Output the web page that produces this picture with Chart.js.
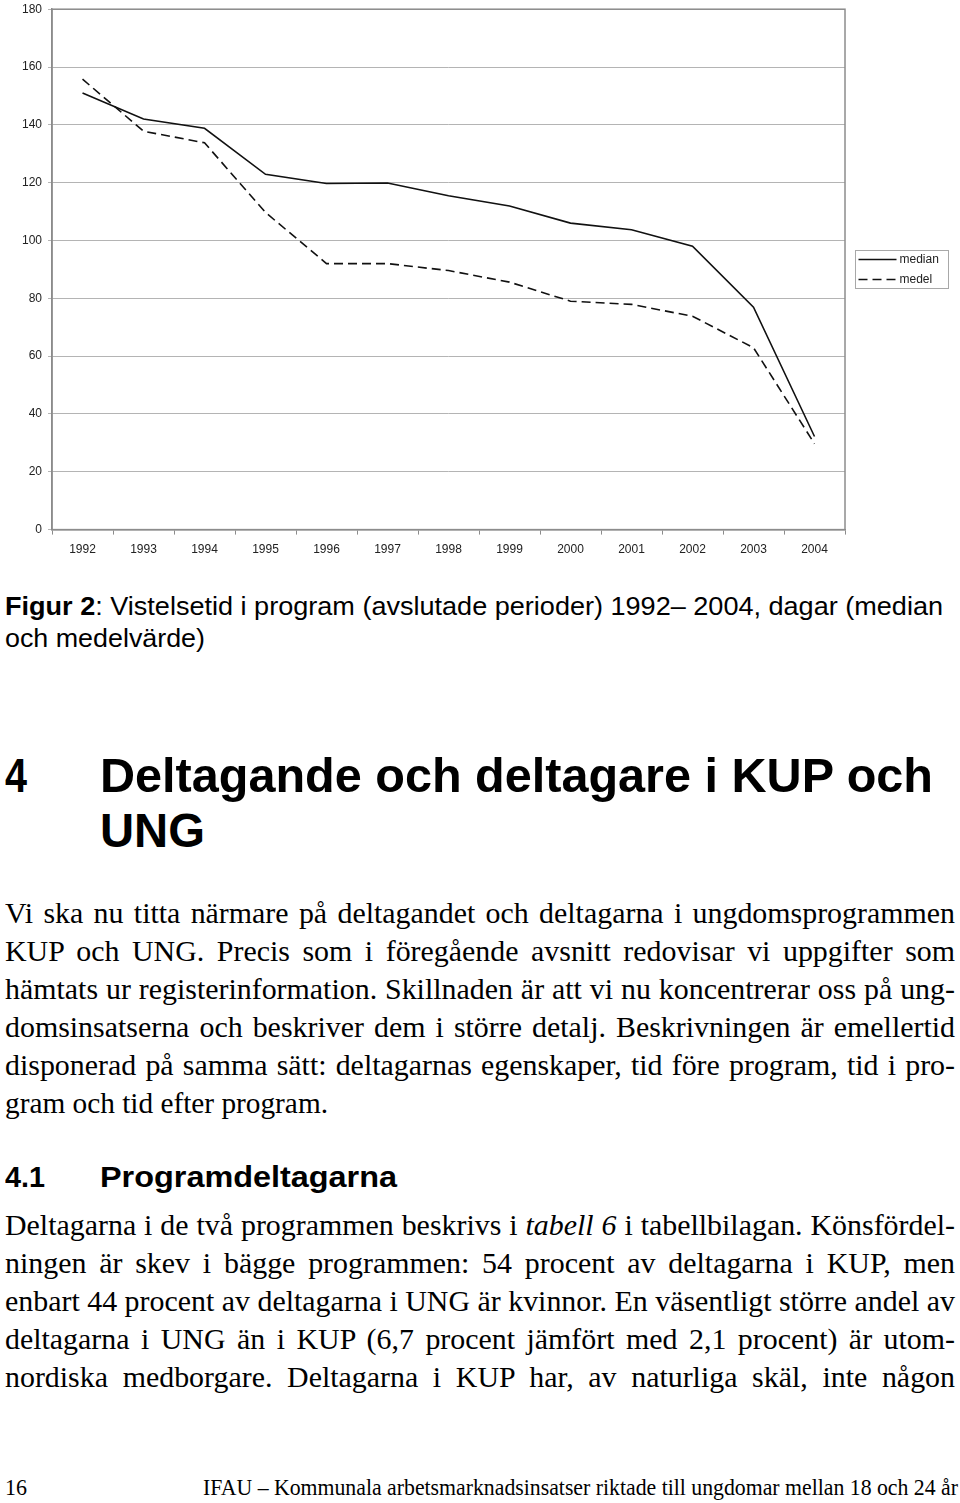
<!DOCTYPE html>
<html>
<head>
<meta charset="utf-8">
<script src="https://cdn.jsdelivr.net/npm/chart.js@4.4.1/dist/chart.umd.min.js"></script>
<style>
  html, body { margin: 0; padding: 0; background: #fff; }
  body { width: 960px; height: 1503px; position: relative; overflow: hidden; }
  #chartBox { position: absolute; left: 0; top: -4px; width: 960px; height: 573px; }
  .ln { position: absolute; white-space: nowrap; line-height: 1; color: #000; transform-origin: 0 0; display: inline-block; }
  .sans { font-family: "Liberation Sans", Arial, sans-serif; }
  .narrow { font-family: "Liberation Sans Narrow", "Liberation Sans", Arial, sans-serif; }
  .serif { font-family: "Liberation Serif", "Times New Roman", serif; }
  .b { font-weight: bold; }
</style>
</head>
<body>
<div id="chartBox"><canvas id="c" width="960" height="573"></canvas></div>

<div class="ln narrow" style="left:5px;top:593px;font-size:26px" data-w="938"><b>Figur 2</b>: Vistelsetid i program (avslutade perioder) 1992– 2004, dagar (median</div>
<div class="ln narrow" style="left:5px;top:625px;font-size:26px" data-w="200">och medelvärde)</div>

<div class="ln sans b" style="left:5px;top:752px;font-size:48px" data-w="22">4</div>
<div class="ln sans b" style="left:100px;top:752px;font-size:48px" data-w="833">Deltagande och deltagare i KUP och</div>
<div class="ln sans b" style="left:100px;top:807px;font-size:48px" data-w="105">UNG</div>

<div class="ln serif" style="left:5px;top:900px;font-size:28.5px" data-w="950" data-j="1">Vi ska nu titta närmare på deltagandet och deltagarna i ungdomsprogrammen</div>
<div class="ln serif" style="left:5px;top:938px;font-size:28.5px" data-w="950" data-j="1">KUP och UNG. Precis som i föregående avsnitt redovisar vi uppgifter som</div>
<div class="ln serif" style="left:5px;top:976px;font-size:28.5px" data-w="950" data-j="1">hämtats ur registerinformation. Skillnaden är att vi nu koncentrerar oss på ung-</div>
<div class="ln serif" style="left:5px;top:1014px;font-size:28.5px" data-w="950" data-j="1">domsinsatserna och beskriver dem i större detalj. Beskrivningen är emellertid</div>
<div class="ln serif" style="left:5px;top:1052px;font-size:28.5px" data-w="950" data-j="1">disponerad på samma sätt: deltagarnas egenskaper, tid före program, tid i pro-</div>
<div class="ln serif" style="left:5px;top:1090px;font-size:28.5px" data-w="323">gram och tid efter program.</div>

<div class="ln sans b" style="left:5px;top:1162px;font-size:30px" data-w="40">4.1</div>
<div class="ln sans b" style="left:100px;top:1162px;font-size:30px" data-w="297">Programdeltagarna</div>

<div class="ln serif" style="left:5px;top:1212px;font-size:28.5px" data-w="950" data-j="1">Deltagarna i de två programmen beskrivs i <i>tabell 6</i> i tabellbilagan. Könsfördel-</div>
<div class="ln serif" style="left:5px;top:1250px;font-size:28.5px" data-w="950" data-j="1">ningen är skev i bägge programmen: 54 procent av deltagarna i KUP, men</div>
<div class="ln serif" style="left:5px;top:1288px;font-size:28.5px" data-w="950" data-j="1">enbart 44 procent av deltagarna i UNG är kvinnor. En väsentligt större andel av</div>
<div class="ln serif" style="left:5px;top:1326px;font-size:28.5px" data-w="950" data-j="1">deltagarna i UNG än i KUP (6,7 procent jämfört med 2,1 procent) är utom-</div>
<div class="ln serif" style="left:5px;top:1364px;font-size:28.5px" data-w="950" data-j="1">nordiska medborgare. Deltagarna i KUP har, av naturliga skäl, inte någon</div>

<div class="ln serif" style="left:5px;top:1476px;font-size:23px" data-w="22">16</div>
<div class="ln serif" style="left:203px;top:1476px;font-size:23px" data-w="755">IFAU – Kommunala arbetsmarknadsinsatser riktade till ungdomar mellan 18 och 24 år</div>

<script>
// ---- data ----
const years = ['1992','1993','1994','1995','1996','1997','1998','1999','2000','2001','2002','2003','2004'];
const medianValues = [151, 142, 138.8, 122.9, 119.7, 119.9, 115.5, 111.9, 106, 103.7, 98, 76.9, 32.2];
const medelValues  = [155.8, 137.8, 133.8, 109.7, 92, 92, 89.6, 85.6, 79, 77.9, 73.8, 62.9, 29.7];
const seriesLabels = ['median', 'medel'];
const yMin = 0, yMax = 180, yStep = 20;

// ---- text fitting ----
function fitLines() {
  const lines = Array.from(document.querySelectorAll('.ln'));
  const nat = new Map();
  lines.forEach(el => nat.set(el, el.getBoundingClientRect().width));
  let s0 = 1.15;
  lines.forEach(el => {
    if (el.dataset.j) s0 = Math.min(s0, parseFloat(el.dataset.w) / nat.get(el));
  });
  lines.forEach(el => {
    const target = parseFloat(el.dataset.w);
    const natural = nat.get(el);
    if (!target || natural <= 0) return;
    let s = target / natural;
    if (el.dataset.j && s > s0) {
      s = s0;
      const spaces = (el.textContent.match(/ /g) || []).length;
      if (spaces > 0) el.style.wordSpacing = ((target - natural * s) / spaces / s) + 'px';
    }
    el.style.transform = 'scaleX(' + s + ')';
  });
}
fitLines();

// ---- chart ----
const frameAndLegend = {
  id: 'frameAndLegend',
  afterDraw(chart) {
    const {ctx, chartArea: a} = chart;
    ctx.save();
    ctx.strokeStyle = '#8c8c8c';
    ctx.lineWidth = 1.5;
    ctx.strokeRect(a.left, a.top, a.right - a.left, a.bottom - a.top);

    // legend box to the right of the plot, vertically centred on it
    const bx = Math.round(a.right) + 10.5;
    const by = Math.round((a.top + a.bottom) / 2) - 19 + 0.5;
    const bw = 93, bh = 38;
    ctx.strokeStyle = '#a8a8a8';
    ctx.lineWidth = 1;
    ctx.strokeRect(bx, by, bw, bh);
    ctx.font = '12px "Liberation Sans", Arial, sans-serif';
    ctx.textBaseline = 'middle';
    ctx.fillStyle = '#222';
    chart.data.datasets.forEach((ds, i) => {
      const y = by + 9 + i * 20;
      ctx.beginPath();
      ctx.setLineDash(ds.borderDash || []);
      ctx.strokeStyle = ds.borderColor;
      ctx.lineWidth = ds.borderWidth;
      ctx.moveTo(bx + 3, y);
      ctx.lineTo(bx + 41, y);
      ctx.stroke();
      ctx.setLineDash([]);
      ctx.fillText(ds.label, bx + 44, y);
    });
    ctx.restore();
  }
};

Chart.defaults.font.family = '"Liberation Sans", Arial, sans-serif';
Chart.defaults.color = '#222';

new Chart(document.getElementById('c'), {
  type: 'line',
  data: {
    labels: years,
    datasets: [
      { label: seriesLabels[0], data: medianValues, borderColor: '#111', backgroundColor: '#111', borderWidth: 1.6, pointRadius: 0, tension: 0, fill: false },
      { label: seriesLabels[1], data: medelValues, borderColor: '#111', backgroundColor: '#111', borderWidth: 1.6, borderDash: [9, 5], pointRadius: 0, tension: 0, fill: false }
    ]
  },
  options: {
    responsive: false,
    animation: false,
    devicePixelRatio: 1,
    layout: { padding: { left: 16, right: 115, top: 0, bottom: 4 } },
    plugins: {
      legend: { display: false },
      tooltip: { enabled: false }
    },
    scales: {
      x: {
        offset: true,
        grid: { offset: true, drawOnChartArea: false, drawTicks: true, tickLength: 5, color: '#8c8c8c' },
        border: { color: '#8c8c8c', width: 1.5 },
        ticks: { font: { size: 12 }, color: '#222', padding: 8, maxRotation: 0, autoSkip: false }
      },
      y: {
        min: yMin, max: yMax,
        grid: { color: '#b4b4b4', lineWidth: 1, drawTicks: true, tickLength: 4 },
        border: { color: '#8c8c8c', width: 1.5 },
        ticks: { stepSize: yStep, font: { size: 12 }, color: '#222', padding: 6 }
      }
    }
  },
  plugins: [frameAndLegend]
});
</script>
</body>
</html>
